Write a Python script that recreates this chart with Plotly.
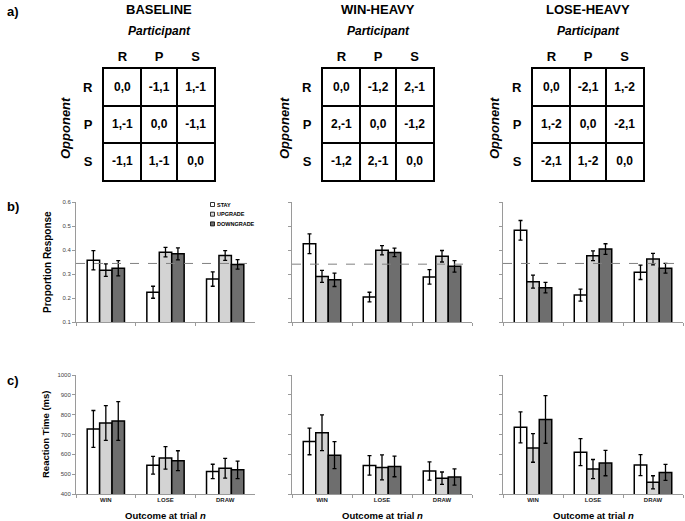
import plotly.graph_objects as go

W, H = 685, 521
FONT = "Arial, Liberation Sans, sans-serif"

# ---------------- data ----------------
CONDITIONS = ["BASELINE", "WIN-HEAVY", "LOSE-HEAVY"]
MOVES = ["R", "P", "S"]
OUTCOMES = ["WIN", "LOSE", "DRAW"]
RESPONSES = ["STAY", "UPGRADE", "DOWNGRADE"]
COLORS = ["#ffffff", "#d3d3d3", "#6e6e6e"]

PAYOFF_BASELINE = [["0,0", "-1,1", "1,-1"], ["1,-1", "0,0", "-1,1"], ["-1,1", "1,-1", "0,0"]]
PAYOFF_WIN_HEAVY = [["0,0", "-1,2", "2,-1"], ["2,-1", "0,0", "-1,2"], ["-1,2", "2,-1", "0,0"]]
PAYOFF_LOSE_HEAVY = [["0,0", "-2,1", "1,-2"], ["1,-2", "0,0", "-2,1"], ["-2,1", "1,-2", "0,0"]]

# proportion response: values per outcome (WIN, LOSE, DRAW)
PROP_BASE_STAY = [0.357, 0.224, 0.279]
PROP_BASE_UP = [0.316, 0.391, 0.377]
PROP_BASE_DOWN = [0.324, 0.384, 0.340]
PROP_BASE_STAY_ERR = [0.040, 0.025, 0.030]
PROP_BASE_UP_ERR = [0.026, 0.020, 0.020]
PROP_BASE_DOWN_ERR = [0.032, 0.025, 0.020]

PROP_WIN_STAY = [0.426, 0.204, 0.288]
PROP_WIN_UP = [0.290, 0.399, 0.374]
PROP_WIN_DOWN = [0.276, 0.390, 0.332]
PROP_WIN_STAY_ERR = [0.041, 0.020, 0.030]
PROP_WIN_UP_ERR = [0.025, 0.019, 0.024]
PROP_WIN_DOWN_ERR = [0.028, 0.018, 0.024]

PROP_LOSE_STAY = [0.482, 0.212, 0.307]
PROP_LOSE_UP = [0.268, 0.376, 0.362]
PROP_LOSE_DOWN = [0.243, 0.404, 0.324]
PROP_LOSE_STAY_ERR = [0.041, 0.025, 0.030]
PROP_LOSE_UP_ERR = [0.027, 0.020, 0.024]
PROP_LOSE_DOWN_ERR = [0.022, 0.022, 0.020]

CHANCE_LEVEL = [0.344, 0.341, 0.344]

# reaction time (ms)
RT_BASE_STAY = [728, 545, 514]
RT_BASE_UP = [758, 582, 530]
RT_BASE_DOWN = [768, 568, 522]
RT_BASE_STAY_ERR = [93, 45, 36]
RT_BASE_UP_ERR = [88, 57, 50]
RT_BASE_DOWN_ERR = [98, 50, 44]

RT_WIN_STAY = [665, 544, 516]
RT_WIN_UP = [709, 534, 480]
RT_WIN_DOWN = [596, 539, 486]
RT_WIN_STAY_ERR = [67, 49, 46]
RT_WIN_UP_ERR = [90, 63, 31]
RT_WIN_DOWN_ERR = [68, 52, 41]

RT_LOSE_STAY = [736, 611, 546]
RT_LOSE_UP = [632, 526, 459]
RT_LOSE_DOWN = [776, 556, 509]
RT_LOSE_STAY_ERR = [78, 68, 53]
RT_LOSE_UP_ERR = [72, 48, 33]
RT_LOSE_DOWN_ERR = [120, 64, 40]

PROP_TICKS = [0.1, 0.2, 0.3, 0.4, 0.5, 0.6]
RT_TICKS = [400, 500, 600, 700, 800, 900, 1000]

payoffs = [PAYOFF_BASELINE, PAYOFF_WIN_HEAVY, PAYOFF_LOSE_HEAVY]
prop = [
    ([PROP_BASE_STAY, PROP_BASE_UP, PROP_BASE_DOWN], [PROP_BASE_STAY_ERR, PROP_BASE_UP_ERR, PROP_BASE_DOWN_ERR]),
    ([PROP_WIN_STAY, PROP_WIN_UP, PROP_WIN_DOWN], [PROP_WIN_STAY_ERR, PROP_WIN_UP_ERR, PROP_WIN_DOWN_ERR]),
    ([PROP_LOSE_STAY, PROP_LOSE_UP, PROP_LOSE_DOWN], [PROP_LOSE_STAY_ERR, PROP_LOSE_UP_ERR, PROP_LOSE_DOWN_ERR]),
]
rt = [
    ([RT_BASE_STAY, RT_BASE_UP, RT_BASE_DOWN], [RT_BASE_STAY_ERR, RT_BASE_UP_ERR, RT_BASE_DOWN_ERR]),
    ([RT_WIN_STAY, RT_WIN_UP, RT_WIN_DOWN], [RT_WIN_STAY_ERR, RT_WIN_UP_ERR, RT_WIN_DOWN_ERR]),
    ([RT_LOSE_STAY, RT_LOSE_UP, RT_LOSE_DOWN], [RT_LOSE_STAY_ERR, RT_LOSE_UP_ERR, RT_LOSE_DOWN_ERR]),
]

# ---------------- layout helpers (pixel positions) ----------------
def px(x):
    return x / W


def py(y):
    return 1 - y / H


BAR_X = [(76, 255), (292, 472), (503, 683)]
PROP_Y = (202, 322)
RT_Y = (375, 494)
MAT_X = [(104, 214), (323, 433), (533, 643)]
MAT_Y = (69, 180)

fig = go.Figure()
layout = dict(
    width=W, height=H, margin=dict(l=0, r=0, t=0, b=0, autoexpand=False),
    paper_bgcolor="white", plot_bgcolor="white",
    showlegend=False, barmode="group", bargap=0.375, bargroupgap=0,
    font=dict(family=FONT, color="black"),
)
annotations = []
shapes = []

AXIS_GRAY = "#9a9a9a"

def ann(x, y, text, size, **kw):
    d = dict(x=px(x), y=py(y), xref="paper", yref="paper", text=text, showarrow=False,
             xanchor=kw.pop("xanchor", "center"), yanchor="middle",
             font=dict(family=FONT, size=size, color=kw.pop("color", "black"),
                       weight=kw.pop("weight", "bold"), style=kw.pop("style", "normal")))
    d.update(kw)
    annotations.append(d)

# ---------------- bar panels ----------------
for row, (data, ydom, yrange, yticks, fmt) in enumerate([
    (prop, PROP_Y, [0.1, 0.6], PROP_TICKS, ".1f"),
    (rt, RT_Y, [400, 1000], RT_TICKS, "d"),
]):
    for c in range(3):
        idx = row * 3 + c + 1
        xa = "x" if idx == 1 else f"x{idx}"
        ya = "y" if idx == 1 else f"y{idx}"
        vals, errs = data[c]
        for r in range(3):
            fig.add_trace(go.Bar(
                x=OUTCOMES, y=vals[r], name=RESPONSES[r], xaxis=xa, yaxis=ya,
                marker=dict(color=COLORS[r], line=dict(color="black", width=1.5)),
                error_y=dict(type="data", array=errs[r], color="black", thickness=1.3, width=2),
                offsetgroup=str(r),
            ))
        xkey = "xaxis" if idx == 1 else f"xaxis{idx}"
        ykey = "yaxis" if idx == 1 else f"yaxis{idx}"
        layout[xkey] = dict(
            domain=[px(BAR_X[c][0]), px(BAR_X[c][1])], anchor=ya, automargin=False,
            type="category", categoryorder="array", categoryarray=OUTCOMES,
            range=[-0.5, 2.5], tickson="boundaries", ticks="outside", ticklen=3,
            tickcolor=AXIS_GRAY, showline=True, linecolor=AXIS_GRAY, linewidth=1,
            showgrid=False, showticklabels=(row == 1),
            tickfont=dict(family=FONT, size=6, color="#222", weight="bold"),
        )
        layout[ykey] = dict(
            domain=[py(ydom[1]), py(ydom[0])], anchor=xa, range=yrange, automargin=False,
            tickvals=yticks, tickformat=fmt, ticks="outside", ticklen=3,
            tickcolor=AXIS_GRAY, showline=True, linecolor=AXIS_GRAY, linewidth=1,
            showgrid=False, zeroline=False, showticklabels=(c == 0),
            tickfont=dict(family=FONT, size=6, color="#444"),
        )
        if row == 0:
            shapes.append(dict(type="line", xref=f"{xa} domain", yref=ya, x0=0, x1=1,
                               y0=CHANCE_LEVEL[c], y1=CHANCE_LEVEL[c],
                               line=dict(color="#808080", width=1, dash="dash"), layer="above"))
        else:
            cx = (BAR_X[c][0] + BAR_X[c][1]) / 2
            ann(cx, 515, "Outcome at trial <i>n</i>", 9.5)

# ---------------- payoff matrices ----------------
for c in range(3):
    idx = 7 + c
    xa, ya = f"x{idx}", f"y{idx}"
    mat = payoffs[c]
    xs = [MOVES[j] for i in range(3) for j in range(3)]
    ys = [MOVES[i] for i in range(3) for j in range(3)]
    ts = [mat[i][j] for i in range(3) for j in range(3)]
    fig.add_trace(go.Scatter(x=xs, y=ys, text=ts, mode="text", xaxis=xa, yaxis=ya,
                             textfont=dict(family=FONT, size=12, color="black", weight="bold"),
                             hoverinfo="skip"))
    common = dict(type="category", categoryorder="array", categoryarray=MOVES, automargin=False,
                  tickson="boundaries", ticks="", showgrid=True, gridcolor="black", gridwidth=2,
                  showline=True, mirror=True, linecolor="black", linewidth=2, zeroline=False,
                  tickfont=dict(family=FONT, size=13, color="black", weight="bold"),
                  fixedrange=True)
    layout[f"xaxis{idx}"] = dict(common, domain=[px(MAT_X[c][0]), px(MAT_X[c][1])], anchor=ya,
                                 side="top", range=[-0.5, 2.5], ticklabelstandoff=1)
    layout[f"yaxis{idx}"] = dict(common, domain=[py(MAT_Y[1]), py(MAT_Y[0])], anchor=xa,
                                 range=[2.5, -0.5], ticklabelstandoff=7)
    cx = (MAT_X[c][0] + MAT_X[c][1]) / 2
    ann(cx, 9, CONDITIONS[c], 13)
    ann(cx, 31, "Participant", 12, style="italic")
    ann(MAT_X[c][0] - 38, 128, "Opponent", 13, style="italic", textangle=-90)

# ---------------- panel labels, axis titles, legend ----------------
ann(13, 11, "a)", 13)
ann(13, 206, "b)", 13)
ann(13, 380, "c)", 13)
ann(47, 262, "Proportion Response", 10, textangle=-90)
ann(45, 435, "Reaction Time (ms)", 9.5, textangle=-90)

for r in range(3):
    yc = 204.5 + r * 9.7
    shapes.append(dict(type="rect", xref="paper", yref="paper",
                       x0=px(210.5), x1=px(214.5), y0=py(yc + 2), y1=py(yc - 2),
                       fillcolor=COLORS[r], line=dict(color="black", width=0.8)))
    ann(215, yc, RESPONSES[r], 5.5, xanchor="left")

layout["annotations"] = annotations
layout["shapes"] = shapes
fig.update_layout(**layout)
fig.write_html("out.html", config={"displayModeBar": False},
               post_script="document.body.style.margin='0';")
